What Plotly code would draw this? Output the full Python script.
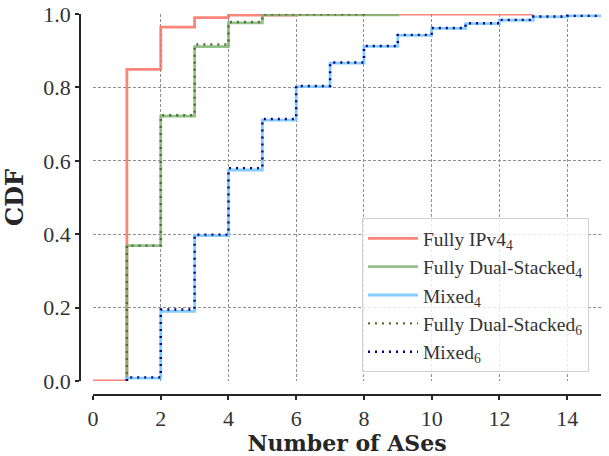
import plotly.graph_objects as go

# ---- data ----
ipv4_x = [0, 1, 2, 3, 4, 6, 13]
ipv4_y = [0.0, 0.849, 0.964, 0.990, 0.997, 1.0, 1.0]

fds4_x = [1, 1, 2, 3, 4, 5, 9]
fds4_y = [0.0, 0.369, 0.722, 0.911, 0.976, 0.998, 1.0]

mixed4_x = [1, 1, 2, 3, 4, 5, 6, 7, 8, 9, 10, 11, 12, 13, 14, 17]
mixed4_y = [0.0, 0.008, 0.190, 0.396, 0.575, 0.711, 0.802, 0.866, 0.912, 0.942,
            0.961, 0.974, 0.983, 0.992, 0.995, 1.0]

fds6_x = [1, 1, 2, 3, 4, 5, 8]
fds6_y = [0.0, 0.369, 0.724, 0.917, 0.978, 0.999, 1.0]

mixed6_x = [1, 1, 2, 3, 4, 5, 6, 7, 8, 9, 10, 11, 12, 13, 14, 17]
mixed6_y = [0.0, 0.010, 0.195, 0.399, 0.580, 0.714, 0.804, 0.868, 0.913, 0.943,
            0.962, 0.975, 0.984, 0.993, 0.995, 1.0]

names = ["Fully IPv4<sub>4</sub>", "Fully Dual-Stacked<sub>4</sub>", "Mixed<sub>4</sub>",
         "Fully Dual-Stacked<sub>6</sub>", "Mixed<sub>6</sub>"]

x_ticks = [0, 2, 4, 6, 8, 10, 12, 14]
y_ticks = [0.0, 0.2, 0.4, 0.6, 0.8, 1.0]

series = [
    (ipv4_x, ipv4_y, "rgba(250,112,98,0.85)", "solid", 2.8),
    (fds4_x, fds4_y, "rgba(120,178,110,0.8)", "solid", 2.8),
    (mixed4_x, mixed4_y, "rgba(120,200,250,0.9)", "solid", 2.8),
    (fds6_x, fds6_y, "#556B2F", "2px,5px", 2.4),
    (mixed6_x, mixed6_y, "#00008B", "2px,5px", 2.4),
]

fig = go.Figure()
for (xs, ys, col, dash, w), nm in zip(series, names):
    fig.add_trace(go.Scatter(x=xs, y=ys, mode="lines", name=nm,
                             line=dict(color=col, width=w, dash=dash, shape="hv")))

axis_col = "#262626"
serif = "'Liberation Serif', 'Times New Roman', Times, serif"
tick_font = dict(family=serif, size=22, color="#333333")
title_font = dict(family="DejaVu Serif", size=22, color="#262626")

fig.update_xaxes(range=[0, 15], domain=[0.025, 1], anchor="free", position=0,
                 showline=True, linecolor=axis_col, linewidth=1.5,
                 ticks="outside", ticklen=4, tickwidth=1.5, tickcolor=axis_col,
                 tickvals=x_ticks, showgrid=True, gridcolor="#8f8f8f", gridwidth=0.8,
                 griddash="3px,2px", zeroline=False, tickfont=tick_font,
                 ticklabeloverflow="allow",
                 title=dict(text="<b>Number of ASes</b>", font=title_font, standoff=6))
fig.update_yaxes(range=[0, 1], domain=[0.0367, 1], anchor="free", position=0,
                 showline=True, linecolor=axis_col, linewidth=1.5,
                 ticks="outside", ticklen=4, tickwidth=1.5, tickcolor=axis_col,
                 tickvals=y_ticks, tickformat=".1f", showgrid=True, gridcolor="#8f8f8f",
                 gridwidth=0.8, griddash="3px,2px", zeroline=False, tickfont=tick_font,
                 ticklabeloverflow="allow",
                 title=dict(text="<b>CDF</b>", font=dict(family="DejaVu Serif", size=24, color="#262626"),
                            standoff=14))

fig.update_layout(
    width=609, height=456,
    margin=dict(l=80, r=8, t=14, b=61, autoexpand=False),
    plot_bgcolor="white", paper_bgcolor="white",
    legend=dict(x=0.977, y=0.06, xanchor="right", yanchor="bottom",
                bgcolor="rgba(255,255,255,0.8)", bordercolor="#d0d0d0", borderwidth=1,
                font=dict(family=serif, size=19.5, color="#333333"),
                tracegroupgap=0, itemwidth=50),
    showlegend=True,
)

fig.write_html("out.html", config={"displayModeBar": False},
               post_script="document.body.style.margin='0px';")
